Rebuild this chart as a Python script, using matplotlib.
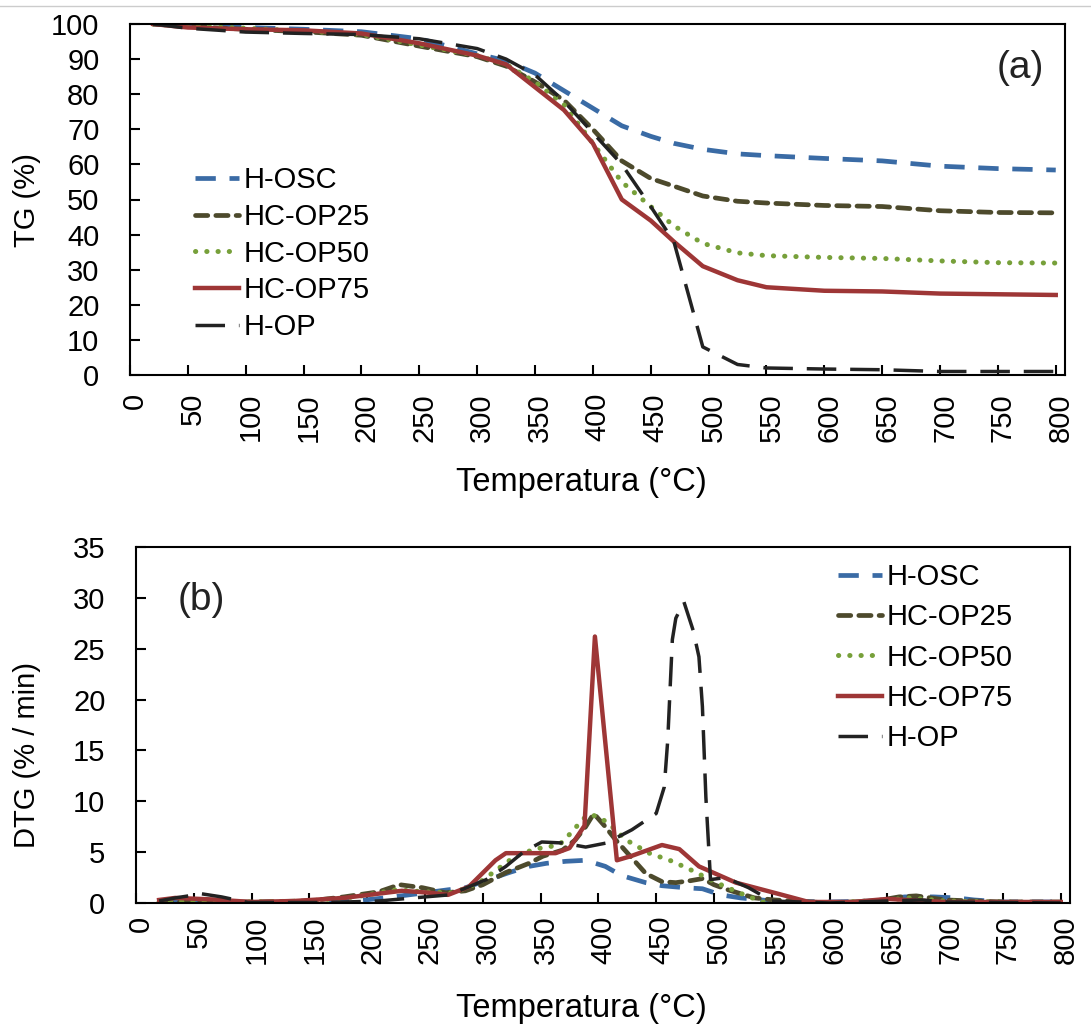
import matplotlib
matplotlib.use("Agg")
import matplotlib.pyplot as plt
import matplotlib.transforms as mtransforms
from matplotlib.lines import Line2D

plt.rcParams['font.family'] = ['Liberation Sans', 'DejaVu Sans']

# ---- TG data (%), common temperature grid (°C)
temp_tg = [20, 50, 100, 150, 200, 250, 300, 325, 350, 375, 400, 425, 450, 470,
           495, 525, 550, 600, 650, 700, 750, 800]
tg_hosc = [100, 99.5, 99, 98.5, 97.8, 95.8, 91.5, 89.5, 86, 81, 76, 71, 68, 66,
           64.3, 63, 62.5, 61.7, 61, 59.5, 58.8, 58.4]
tg_op25 = [100, 99.3, 98.5, 97.8, 96.8, 93.7, 90.7, 88, 83.5, 78.3, 70, 61, 56, 53.8,
           51, 49.5, 49, 48.3, 48, 46.8, 46.3, 46.2]
tg_op50 = [100, 99.5, 98.8, 98, 97, 94, 91, 88.5, 83.5, 77, 66, 55, 48, 42.5,
           37.5, 34.8, 34, 33.5, 33.2, 32.5, 32, 31.9]
tg_op75 = [100, 99, 98.5, 98.2, 97.3, 94.5, 91, 88.5, 82, 75.5, 66, 50, 44, 38,
           31, 27, 25, 24, 23.8, 23.2, 23, 22.8]
tg_hop = [100, 98.8, 97.7, 97.3, 97, 95.8, 93, 90, 85.5, 78, 69, 60, 48, 38,
          8, 3, 2, 1.7, 1.5, 1, 1, 1]

# ---- DTG data (%/min), one temperature list per series
t_hosc = [20, 50, 100, 150, 190, 215, 250, 270, 285, 305, 323, 340, 355, 372, 389,
          406, 420, 441, 455, 475, 490, 506, 523, 550, 600, 640, 665, 690, 710, 725,
          750, 800]
d_hosc = [0.1, 0.1, 0.0, 0.1, 0.2, 0.5, 1.0, 1.3, 1.5, 2.3, 3.0, 3.6, 3.9, 4.1, 4.2,
          3.6, 2.7, 2.0, 1.7, 1.5, 1.4, 0.8, 0.5, 0.2, 0.1, 0.2, 0.6, 0.6, 0.5, 0.3,
          0.1, 0.1]
t_op25 = [20, 35, 60, 100, 150, 180, 210, 228, 248, 268, 285, 300, 320, 340, 352,
          369, 380, 389, 396, 406, 415, 441, 455, 467, 480, 490, 500, 512, 535, 552,
          600, 640, 660, 675, 700, 750, 800]
d_op25 = [0.1, 0.1, 0.1, 0.1, 0.2, 0.6, 1.1, 1.8, 1.5, 1.0, 1.2, 1.8, 3.0, 3.9, 4.6,
          5.2, 6.2, 7.5, 8.8, 7.5, 6.2, 2.9, 2.1, 2.0, 2.2, 2.4, 1.8, 1.3, 0.5, 0.3,
          0.0, 0.2, 0.6, 0.7, 0.3, 0.1, 0.1]
t_op50 = [20, 50, 100, 150, 190, 225, 250, 275, 297, 328, 345, 366, 379, 385, 392,
          400, 409, 424, 444, 464, 481, 502, 522, 542, 600, 650, 670, 700, 750, 800]
d_op50 = [0.1, 0.2, 0.1, 0.2, 0.6, 1.3, 1.1, 1.0, 2.0, 4.6, 5.3, 5.7, 7.2, 8.1, 8.7,
          8.5, 7.8, 6.2, 4.9, 4.1, 3.2, 2.0, 1.0, 0.1, 0.0, 0.3, 0.5, 0.2, 0.1, 0.0]
t_op75 = [20, 34, 66, 100, 137, 180, 230, 255, 270, 288, 311, 320, 363, 375, 388,
          397, 416, 428, 455, 470, 487, 519, 559, 582, 620, 650, 700, 800]
d_op75 = [0.3, 0.5, 0.35, 0.1, 0.2, 0.5, 1.2, 1.0, 0.8, 1.6, 4.2, 4.9, 4.9, 5.4, 7.6,
          26.2, 4.2, 4.6, 5.7, 5.3, 3.6, 2.0, 0.8, 0.1, 0.1, 0.4, 0.1, 0.1]
t_hop = [20, 34, 57, 74, 97, 167, 210, 240, 271, 303, 320, 335, 351, 369, 389, 407,
         429, 450, 457, 460, 464, 467, 474, 482, 487, 490, 493, 497, 510, 530, 550,
         600, 650, 680, 700, 800]
d_hop = [0.2, 0.5, 0.9, 0.6, 0.05, 0.05, 0.2, 0.5, 0.8, 2.3, 3.6, 5.0, 6.0, 5.9, 5.5,
         5.9, 7.2, 8.8, 11.4, 16.0, 25.9, 28.0, 29.6, 26.8, 24.2, 19.3, 10.4, 2.3, 2.5,
         1.5, 0.2, 0.0, 0.2, 0.3, 0.1, 0.0]

labels = ['H-OSC', 'HC-OP25', 'HC-OP50', 'HC-OP75', 'H-OP']
colors = ['#3a6ba5', '#4d4a2c', '#77a03a', '#9e3636', '#222222']
styles = [
    dict(lw=3.4, linestyle=(0, (4.3, 2.9)), dash_capstyle='butt'),
    dict(lw=3.4, linestyle=(0, (2.6, 1.7)), dash_capstyle='round'),
    dict(lw=3.6, linestyle=(0, (0.05, 2.2)), dash_capstyle='round'),
    dict(lw=3.2, linestyle='-'),
    dict(lw=2.5, linestyle=(0, (8.5, 4.0)), dash_capstyle='butt'),
]

fig = plt.figure(figsize=(10.91, 10.32), dpi=100)
ax1 = fig.add_axes([130 / 1091, 1 - 375 / 1032, 935 / 1091, 351 / 1032])
ax2 = fig.add_axes([136 / 1091, 1 - 903 / 1032, 934 / 1091, 356 / 1032])

tg_series = [tg_hosc, tg_op25, tg_op50, tg_op75, tg_hop]
for y, lab, c, st in zip(tg_series, labels, colors, styles):
    ax1.plot(temp_tg, y, color=c, label=lab, **st)

dtg_series = [(t_hosc, d_hosc), (t_op25, d_op25), (t_op50, d_op50),
              (t_op75, d_op75), (t_hop, d_hop)]
for (x, y), lab, c, st in zip(dtg_series, labels, colors, styles):
    ax2.plot(x, y, color=c, label=lab, **st)

shift = mtransforms.ScaledTranslation(5 / 100, 0, fig.dpi_scale_trans)
for ax, ymax, ystep, xpad in [(ax1, 100, 10, 13), (ax2, 35, 5, 9)]:
    ax.set_xlim(0, 808)
    ax.set_ylim(0, ymax)
    ax.set_xticks(range(0, 801, 50))
    ax.set_yticks(range(0, ymax + 1, ystep))
    ax.tick_params(axis='both', direction='in', length=7, width=1.5, labelsize=21)
    ax.tick_params(axis='x', labelrotation=90, pad=xpad)
    ax.tick_params(axis='y', pad=22)
    for lbl in ax.get_xticklabels():
        lbl.set_transform(lbl.get_transform() + shift)
    for sp in ax.spines.values():
        sp.set_linewidth(1.5)

ax1.legend(loc='upper left', bbox_to_anchor=(0.07, 0.595), frameon=False,
           fontsize=21, handlelength=1.5, handletextpad=0.15, labelspacing=0.3,
           borderpad=0, borderaxespad=0)
ax2.legend(loc='upper left', bbox_to_anchor=(0.752, 0.955), frameon=False,
           fontsize=21, handlelength=1.5, handletextpad=0.15, labelspacing=0.42,
           borderpad=0, borderaxespad=0)

ax1.text(0.952, 0.875, '(a)', transform=ax1.transAxes, fontsize=28,
         ha='center', va='center', color='#222222')
ax2.text(0.07, 0.85, '(b)', transform=ax2.transAxes, fontsize=28,
         ha='center', va='center', color='#222222')

fig.text(27 / 1091, 1 - 200 / 1032, 'TG (%)', rotation=90, fontsize=21,
         ha='center', va='center')
fig.text(27 / 1091, 1 - 755 / 1032, 'DTG (% / min)', rotation=90, fontsize=21,
         ha='center', va='center')
fig.text(581 / 1091, 1 - 483 / 1032, 'Temperatura (°C)', fontsize=23.5,
         ha='center', va='center')
fig.text(581 / 1091, 1 - 1008 / 1032, 'Temperatura (°C)', fontsize=23.5,
         ha='center', va='center')

# thin page border line at the very top
fig.add_artist(Line2D([0, 1], [1 - 6 / 1032, 1 - 6 / 1032], transform=fig.transFigure,
                      color='#cccccc', lw=1))

fig.savefig('out.png', dpi=100)
